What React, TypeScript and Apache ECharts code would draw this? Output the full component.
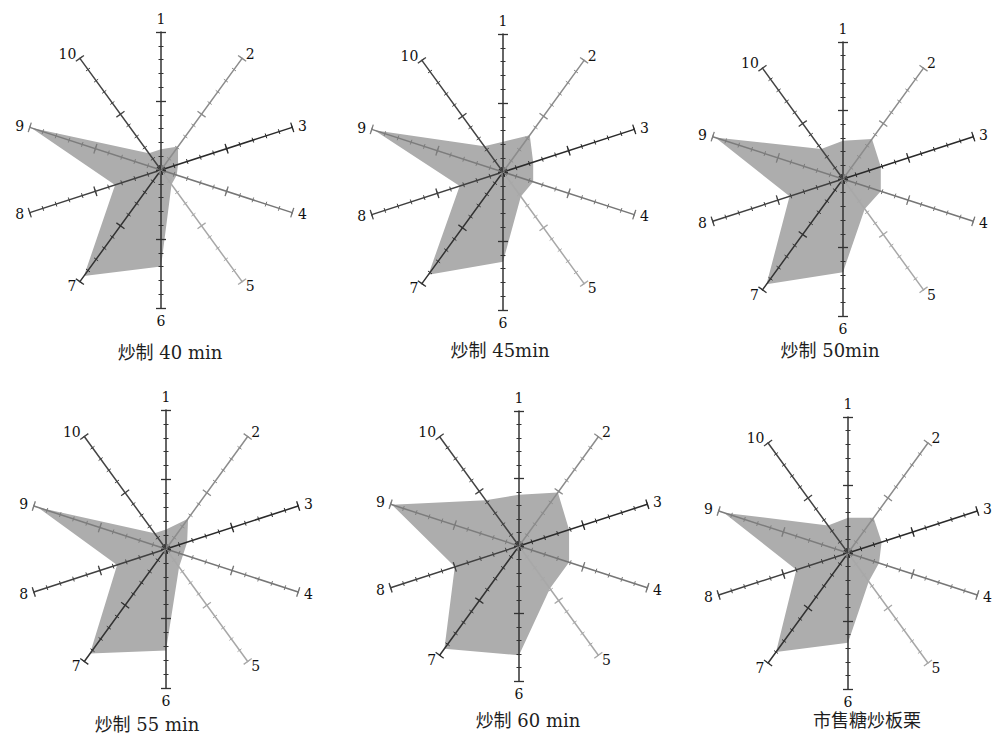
import React, { useEffect, useRef } from 'react';
import * as echarts from 'echarts';

// ---- data ----
const axisNames = ['1', '2', '3', '4', '5', '6', '7', '8', '9', '10'];
const axisMax = 10;
const panelTitles = ['炒制 40 min', '炒制 45min', '炒制 50min', '炒制 55 min', '炒制 60 min', '市售糖炒板栗'];
const roast40 = [1.5, 2.1, 1.3, 1.2, 1.3, 7.0, 9.5, 3.5, 9.9, 1.5];
const roast45 = [2.2, 3.3, 2.3, 2.3, 2.2, 6.5, 9.2, 3.3, 9.8, 2.3];
const roast50 = [2.8, 3.6, 2.9, 2.9, 2.7, 6.8, 9.5, 4.1, 9.8, 2.7];
const roast55 = [1.4, 2.7, 1.6, 1.3, 1.6, 7.3, 9.3, 3.7, 9.7, 1.4];
const roast60 = [3.8, 4.9, 3.9, 3.9, 3.9, 8.1, 9.4, 5.0, 9.9, 4.2];
const market = [2.6, 3.2, 2.6, 2.4, 2.6, 6.6, 9.0, 4.0, 9.6, 2.5];
const panelValues = [roast40, roast45, roast50, roast55, roast60, market];

// ---- styling / layout ----
const axisColors = ['#333333', '#8c8c8c', '#2a2a2a', '#767676', '#a8a8a8', '#333333', '#333333', '#404040', '#7c7c7c', '#444444'];
const panelLayout = [
  { center: [161, 170], radius: 138, tx: 170, ty: 352 },
  { center: [503, 172], radius: 138, tx: 500, ty: 350 },
  { center: [843, 179], radius: 137, tx: 830, ty: 350 },
  { center: [166, 549], radius: 139, tx: 147, ty: 724 },
  { center: [519, 546], radius: 135, tx: 528, ty: 720 },
  { center: [848, 553], radius: 136, tx: 867, ty: 720 },
];
// ECharts radar goes counter-clockwise: 1 at top, then 10, 9, ... 2
const order = [0, 9, 8, 7, 6, 5, 4, 3, 2, 1];

const layers = [
  { main: true, split: 2, len: 5, width: 1.3 },
  { main: false, split: 2, len: -5, width: 1.3 },
  { main: false, split: 10, len: 2.5, width: 1 },
  { main: false, split: 10, len: -2.5, width: 1 },
];

function buildOption() {
  const radars: any[] = [];
  const series: any[] = [];
  const graphics: any[] = [];
  panelLayout.forEach((p, i) => {
    const mainIndex = radars.length;
    layers.forEach((L) => {
      radars.push({
        center: p.center,
        radius: p.radius,
        startAngle: 90,
        splitNumber: L.split,
        shape: 'polygon',
        z: 3,
        silent: true,
        indicator: order.map((k) => ({
          name: axisNames[k],
          max: axisMax,
          axisLine: { lineStyle: { color: axisColors[k] } },
          axisTick: { lineStyle: { color: axisColors[k] } },
        })),
        axisName: {
          show: L.main,
          color: '#111111',
          fontFamily: 'DejaVu Serif',
          fontSize: 14,
        },
        axisNameGap: 6,
        axisLine: { show: L.main, lineStyle: { width: 1.5 } },
        axisTick: { show: true, length: L.len, inside: false, lineStyle: { width: L.width } },
        axisLabel: { show: false },
        splitLine: { show: false },
        splitArea: { show: false },
      });
    });
    series.push({
      type: 'radar',
      radarIndex: mainIndex,
      z: 1,
      symbol: 'none',
      silent: true,
      lineStyle: { width: 0, opacity: 0 },
      areaStyle: { color: '#adadad', opacity: 1 },
      data: [{ value: order.map((k) => panelValues[i][k]), name: panelTitles[i] }],
    });
    graphics.push({
      type: 'text',
      x: p.tx,
      y: p.ty,
      style: {
        text: panelTitles[i],
        fill: '#1e1e1e',
        fontSize: 18,
        fontFamily: '"DejaVu Serif", "Noto Sans CJK SC"',
        align: 'center',
        verticalAlign: 'middle',
      },
    });
  });
  return {
    animation: false,
    backgroundColor: '#ffffff',
    radar: radars,
    series,
    graphic: graphics,
  };
}

export default function App() {
  const ref = useRef<HTMLDivElement>(null);
  useEffect(() => {
    if (!ref.current) return;
    const chart = echarts.init(ref.current, undefined, { renderer: 'svg' });
    chart.setOption(buildOption() as any);
    return () => chart.dispose();
  }, []);
  return (
    <div
      ref={ref}
      style={{ position: 'fixed', left: 0, top: 0, width: 992, height: 742, background: '#fff' }}
    />
  );
}
